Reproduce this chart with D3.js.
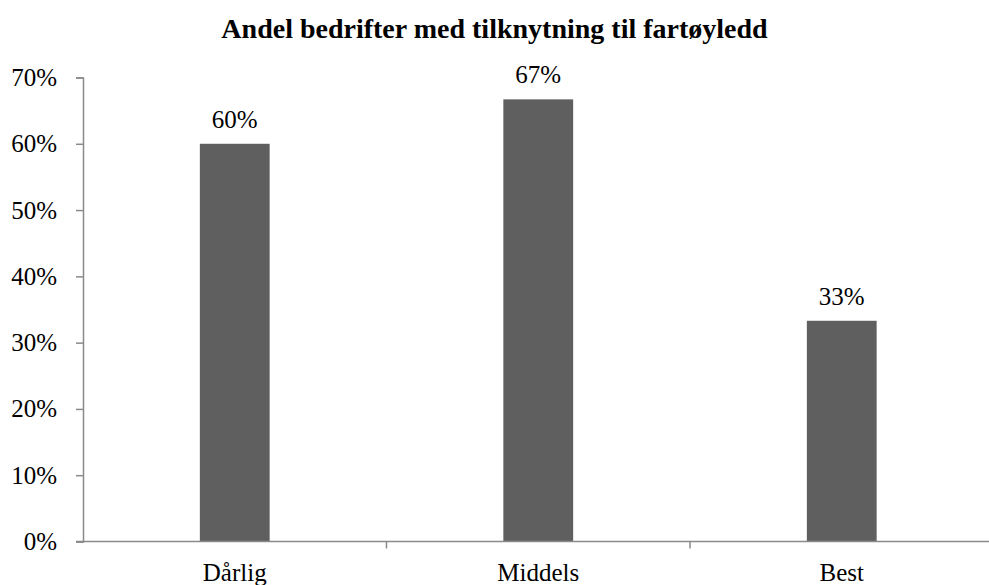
<!DOCTYPE html>
<html>
<head>
<meta charset="utf-8">
<script src="https://cdn.jsdelivr.net/npm/d3@7"></script>
<style>
  body { margin: 0; background: #fff; }
  text { font-family: "Liberation Serif", "Times New Roman", serif; fill: #000; }
</style>
</head>
<body>
<svg width="989" height="585"></svg>
<script>
var title = "Andel bedrifter med tilknytning til fartøyledd";
var categories = ["Dårlig", "Middels", "Best"];
var values = [0.60, 0.667, 0.333];
var valueLabels = ["60%", "67%", "33%"];
var yTicks = [0, 0.1, 0.2, 0.3, 0.4, 0.5, 0.6, 0.7];

var svg = d3.select("svg"),
    width = +svg.attr("width"),
    height = +svg.attr("height");

var margin = {top: 77.5, left: 83, bottom: 541.5};

var x = d3.scaleBand()
    .domain(categories)
    .range([margin.left, margin.left + 3 * 303.5])
    .paddingInner(0.77)
    .paddingOuter(0.385);

var y = d3.scaleLinear()
    .domain([0, 0.7])
    .range([margin.bottom, margin.top]);

var axisColor = "#8a8a8a";

// title
svg.append("text")
    .attr("x", width / 2)
    .attr("y", 38)
    .attr("text-anchor", "middle")
    .style("font-weight", "bold")
    .style("font-size", "28px")
    .text(title);

// bars
svg.append("g")
  .selectAll("rect")
  .data(values)
  .enter().append("rect")
    .attr("x", function(d, i) { return x(categories[i]); })
    .attr("y", function(d) { return y(d); })
    .attr("width", x.bandwidth())
    .attr("height", function(d) { return y(0) - y(d); })
    .attr("fill", "#5f5f5f");

// value labels
svg.append("g")
  .selectAll("text")
  .data(values)
  .enter().append("text")
    .attr("x", function(d, i) { return x(categories[i]) + x.bandwidth() / 2; })
    .attr("y", function(d) { return y(d) - 16; })
    .attr("text-anchor", "middle")
    .style("font-size", "25px")
    .text(function(d, i) { return valueLabels[i]; });

// y axis
var yAxis = svg.append("g")
    .attr("transform", "translate(" + margin.left + ",0)")
    .call(d3.axisLeft(y)
      .tickValues(yTicks)
      .tickFormat(d3.format(".0%"))
      .tickSize(7)
      .tickPadding(19));
yAxis.select(".domain").attr("stroke", axisColor).attr("stroke-width", 1.5);
yAxis.selectAll(".tick line").attr("stroke", axisColor).attr("stroke-width", 1.5);
yAxis.selectAll(".tick text")
    .style("font-size", "25px")
    .style("font-family", "Liberation Serif, serif")
    .attr("fill", "#000");

// x axis: ticks between categories
var xAxisG = svg.append("g").attr("transform", "translate(0," + margin.bottom + ")");
xAxisG.append("line")
    .attr("x1", margin.left - 7)
    .attr("x2", width)
    .attr("stroke", axisColor)
    .attr("stroke-width", 1.5);
var step = x.step();
var boundaries = categories.map(function(c) { return x(c) - x.paddingOuter() * step; });
xAxisG.selectAll(".btick")
  .data(boundaries.slice(1))
  .enter().append("line")
    .attr("x1", function(d) { return d; })
    .attr("x2", function(d) { return d; })
    .attr("y1", 0)
    .attr("y2", 7)
    .attr("stroke", axisColor)
    .attr("stroke-width", 1.5);
xAxisG.selectAll(".clabel")
  .data(categories)
  .enter().append("text")
    .attr("x", function(d) { return x(d) + x.bandwidth() / 2; })
    .attr("y", 39)
    .attr("text-anchor", "middle")
    .style("font-size", "25px")
    .text(function(d) { return d; });
</script>
</body>
</html>
